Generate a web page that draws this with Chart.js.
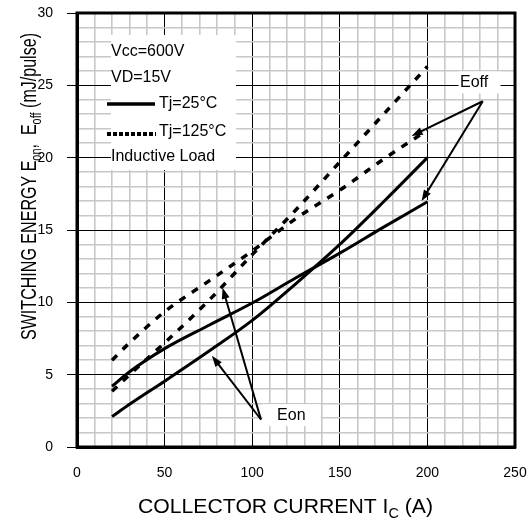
<!DOCTYPE html>
<html>
<head>
<meta charset="utf-8">
<script src="https://cdn.jsdelivr.net/npm/chart.js@4/dist/chart.umd.min.js"></script>
<style>
html, body { margin: 0; padding: 0; background: #fff; }
#wrap { width: 529px; height: 519px; }
</style>
</head>
<body>
<div id="wrap"><canvas id="chart"></canvas></div>
<script>
var CURRENT = [20, 30, 50, 75, 100, 125, 150, 175, 200];
var EON_25 = [2.1, 2.95, 4.55, 6.6, 8.75, 11.3, 14.0, 16.95, 20.0];
var EOFF_25 = [4.2, 5.2, 6.8, 8.4, 9.95, 11.7, 13.4, 15.2, 16.95];
var EON_125 = [3.85, 5.0, 7.2, 10.1, 13.3, 16.4, 19.7, 23.0, 26.3];
var EOFF_125 = [6.0, 7.2, 9.35, 11.45, 13.55, 15.8, 17.75, 19.9, 21.9];
var X_TICKS = [0, 50, 100, 150, 200, 250];
var Y_TICKS = [0, 5, 10, 15, 20, 25, 30];

// callouts in data units: [fromX, fromY, toX, toY]
var EOFF_ARROWS = [[231.6, 23.9, 191, 21.5], [231.6, 23.9, 196.7, 17.0]];
var EON_ARROWS = [[105, 1.9, 77, 6.3], [105, 1.9, 83.1, 11.0]];

var FONT = '"Liberation Sans", Arial, sans-serif';

function pts(ys) {
    return CURRENT.map(function (x, i) { return { x: x, y: ys[i] }; });
}

function solid(label, ys) {
    return { label: label, data: pts(ys), borderColor: '#000', borderWidth: 3,
        pointRadius: 0, fill: false, cubicInterpolationMode: 'monotone' };
}

function dashed(label, ys) {
    return { label: label, data: pts(ys), borderColor: '#000', borderWidth: 3.5,
        borderDash: [7, 8], pointRadius: 0, fill: false, cubicInterpolationMode: 'monotone' };
}

function arrow(ctx, x1, y1, x2, y2) {
    var a = Math.atan2(y2 - y1, x2 - x1), len = 11, w = 4;
    ctx.beginPath();
    ctx.moveTo(x1, y1);
    ctx.lineTo(x2 - Math.cos(a) * len * 0.8, y2 - Math.sin(a) * len * 0.8);
    ctx.stroke();
    ctx.beginPath();
    ctx.moveTo(x2, y2);
    ctx.lineTo(x2 - Math.cos(a) * len + Math.sin(a) * w, y2 - Math.sin(a) * len - Math.cos(a) * w);
    ctx.lineTo(x2 - Math.cos(a) * len - Math.sin(a) * w, y2 - Math.sin(a) * len + Math.cos(a) * w);
    ctx.closePath();
    ctx.fill();
}

// text with subscripts, drawn from (0,0) on baseline; scaled to fit width
function rich(ctx, parts, size, fitWidth, stretchY) {
    var total = 0;
    parts.forEach(function (p) {
        ctx.font = (p.sub ? size * 0.68 : size) + 'px ' + FONT;
        p.w = ctx.measureText(p.t).width;
        total += p.w;
    });
    ctx.scale(fitWidth / total, stretchY);
    var x = 0;
    parts.forEach(function (p) {
        ctx.font = (p.sub ? size * 0.68 : size) + 'px ' + FONT;
        ctx.fillText(p.t, x, p.sub ? size * 0.22 : 0);
        x += p.w;
    });
}

var decor = {
    id: 'decor',
    afterDraw: function (chart) {
        var ctx = chart.ctx, a = chart.chartArea;
        var sx = chart.scales.x, sy = chart.scales.y;
        ctx.save();
        ctx.fillStyle = '#000';
        ctx.strokeStyle = '#000';

        // legend box
        ctx.fillStyle = '#fff';
        ctx.fillRect(111, 35, 125, 135);
        ctx.fillStyle = '#000';
        ctx.font = '16px ' + FONT;
        ctx.textBaseline = 'middle';
        ctx.textAlign = 'left';
        ctx.fillText('Vcc=600V', 111, 52);
        ctx.fillText('VD=15V', 111, 78);
        ctx.fillText('Tj=25°C', 159, 104);
        ctx.fillText('Tj=125°C', 159, 132);
        ctx.fillText('Inductive Load', 111, 157);
        ctx.lineWidth = 3.5;
        ctx.beginPath(); ctx.moveTo(107, 104); ctx.lineTo(155, 104); ctx.stroke();
        ctx.lineWidth = 4;
        ctx.setLineDash([4, 2]);
        ctx.beginPath(); ctx.moveTo(107, 134); ctx.lineTo(156, 134); ctx.stroke();
        ctx.setLineDash([]);

        // callout labels
        ctx.fillStyle = '#fff';
        ctx.fillRect(sx.getPixelForValue(217.8), sy.getPixelForValue(25.2) - 11, 42, 22);
        ctx.fillRect(sx.getPixelForValue(106), sy.getPixelForValue(2.2) - 11, 58, 22);
        ctx.fillStyle = '#000';
        ctx.fillText('Eoff', sx.getPixelForValue(218.6), sy.getPixelForValue(25.2));
        ctx.fillText('Eon', sx.getPixelForValue(114.2), sy.getPixelForValue(2.2));

        ctx.lineWidth = 2;
        EOFF_ARROWS.concat(EON_ARROWS).forEach(function (r) {
            arrow(ctx, sx.getPixelForValue(r[0]), sy.getPixelForValue(r[1]),
                sx.getPixelForValue(r[2]), sy.getPixelForValue(r[3]));
        });

        // frame
        ctx.lineWidth = 3;
        ctx.strokeRect(a.left, a.top, a.right - a.left, a.bottom - a.top);

        // axis titles
        ctx.textBaseline = 'alphabetic';
        ctx.save();
        ctx.translate(138, 513);
        rich(ctx, [{ t: 'COLLECTOR CURRENT I' }, { t: 'C', sub: true }, { t: ' (A)' }], 21, 295, 1);
        ctx.restore();

        ctx.save();
        ctx.translate(36, 340);
        ctx.rotate(-Math.PI / 2);
        rich(ctx, [{ t: 'SWITCHING ENERGY E' }, { t: 'on', sub: true }, { t: ',  E' },
            { t: 'off', sub: true }, { t: ' (mJ/pulse)' }], 16.5, 307, 1.35);
        ctx.restore();

        ctx.restore();
    }
};

function gridColor(major) {
    return function (c) { return major.indexOf(c.tick.value) >= 0 ? '#000' : '#c8c8c8'; };
}
function gridWidth(major) {
    return function (c) { return major.indexOf(c.tick.value) >= 0 ? 1 : 1.6; };
}

new Chart(document.getElementById('chart'), {
    type: 'line',
    data: {
        datasets: [
            solid('Eon Tj=25°C', EON_25),
            solid('Eoff Tj=25°C', EOFF_25),
            dashed('Eon Tj=125°C', EON_125),
            dashed('Eoff Tj=125°C', EOFF_125)
        ]
    },
    options: {
        responsive: true,
        maintainAspectRatio: false,
        animation: false,
        layout: { padding: { top: 13, right: 14, left: 0, bottom: 0 } },
        plugins: { legend: { display: false }, tooltip: { enabled: false } },
        scales: {
            x: {
                type: 'linear', min: 0, max: 250,
                afterFit: function (s) { s.height = 72; s.paddingLeft = 0; s.paddingRight = 0; },
                ticks: {
                    stepSize: 10, autoSkip: false, maxRotation: 0, padding: 18,
                    color: '#000', font: { family: FONT, size: 14 },
                    callback: function (v) { return X_TICKS.indexOf(v) >= 0 ? v : ''; }
                },
                grid: { color: gridColor(X_TICKS), lineWidth: gridWidth(X_TICKS), drawTicks: false },
                border: { color: '#000', width: 3 }
            },
            y: {
                min: 0, max: 30,
                afterFit: function (s) { s.width = 77; s.paddingTop = 0; s.paddingBottom = 0; },
                ticks: {
                    stepSize: 1, autoSkip: false, padding: 14,
                    color: '#000', font: { family: FONT, size: 14 },
                    callback: function (v) { return Y_TICKS.indexOf(v) >= 0 ? v : ''; }
                },
                grid: {
                    color: gridColor(Y_TICKS), lineWidth: gridWidth(Y_TICKS), tickLength: 10,
                    tickColor: function (c) { return Y_TICKS.indexOf(c.tick.value) >= 0 ? '#000' : 'rgba(0,0,0,0)'; }
                },
                border: { color: '#000', width: 3 }
            }
        }
    },
    plugins: [decor]
});
</script>
</body>
</html>
